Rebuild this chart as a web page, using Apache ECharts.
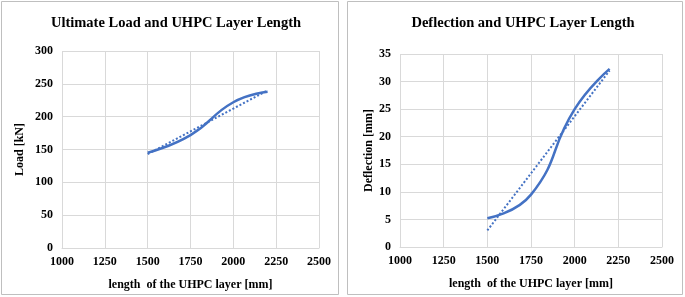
<!DOCTYPE html>
<html>
<head>
<meta charset="utf-8">
<script src="https://cdn.jsdelivr.net/npm/echarts@6/dist/echarts.min.js"></script>
<style>
  html, body { margin: 0; padding: 0; background: #fff; }
  #chart { width: 685px; height: 297px; }
</style>
</head>
<body>
<div id="chart"></div>
<script>
  // lengths of the UHPC layer [mm]
  var lengths = [1500, 1750, 2000, 2200];
  var loadValues = [145, 172, 222, 238];
  var deflectionValues = [5.2, 9.5, 25, 32.3];
  // linear trendline end points
  var trendX = [1500, 2200];
  var loadTrend = [143, 240];
  var deflectionTrend = [3, 32];
  var xTicks = [1000, 1250, 1500, 1750, 2000, 2250, 2500];

  var blue = '#4472C4';
  var font = 'Liberation Serif';

  function pairs(xs, ys) {
    return xs.map(function (x, i) { return [x, ys[i]]; });
  }

  function plain(v) { return String(v); }

  function xAxisFor(idx) {
    return {
      type: 'value',
      gridIndex: idx,
      min: xTicks[0],
      max: xTicks[xTicks.length - 1],
      interval: 250,
      name: 'length  of the UHPC layer [mm]',
      nameLocation: 'middle',
      nameGap: 31,
      nameTextStyle: { fontFamily: font, fontWeight: 'bold', fontSize: 12, color: '#000' },
      axisLine: { show: true, lineStyle: { color: '#d9d9d9', width: 1 } },
      axisTick: { show: false },
      axisLabel: { fontFamily: font, fontWeight: 'bold', fontSize: 12, color: '#000', margin: 8, formatter: plain },
      splitLine: { show: true, lineStyle: { color: '#d9d9d9', width: 1 } }
    };
  }

  function yAxisFor(idx, max, step, name, gap) {
    return {
      type: 'value',
      gridIndex: idx,
      min: 0,
      max: max,
      interval: step,
      name: name,
      nameLocation: 'middle',
      nameGap: gap,
      nameTextStyle: { fontFamily: font, fontWeight: 'bold', fontSize: 12, color: '#000' },
      axisLine: { show: false },
      axisTick: { show: false },
      axisLabel: { fontFamily: font, fontWeight: 'bold', fontSize: 12, color: '#000', margin: 9, formatter: plain },
      splitLine: { show: true, lineStyle: { color: '#d9d9d9', width: 1 } }
    };
  }

  var chart = echarts.init(document.getElementById('chart'));
  var option = {
    animation: false,
    backgroundColor: '#fff',
    title: [
      {
        text: 'Ultimate Load and UHPC Layer Length',
        left: 171, top: 11, textAlign: 'center',
        textStyle: { fontFamily: font, fontWeight: 'bold', fontSize: 14.5, color: '#000' }
      },
      {
        text: 'Deflection and UHPC Layer Length',
        left: 518, top: 11, textAlign: 'center',
        textStyle: { fontFamily: font, fontWeight: 'bold', fontSize: 14.5, color: '#000' }
      }
    ],
    graphic: [
      { type: 'rect', shape: { x: 1.5, y: 1.5, width: 337, height: 293 },
        style: { fill: 'none', stroke: '#bfbfbf', lineWidth: 1 } },
      { type: 'rect', shape: { x: 347.5, y: 1.5, width: 335, height: 293 },
        style: { fill: 'none', stroke: '#bfbfbf', lineWidth: 1 } }
    ],
    grid: [
      { left: 62, right: 366, top: 51, bottom: 49 },
      { left: 400, right: 23, top: 54, bottom: 50 }
    ],
    xAxis: [xAxisFor(0), xAxisFor(1)],
    yAxis: [
      yAxisFor(0, 300, 50, 'Load [kN]', 36),
      yAxisFor(1, 35, 5, 'Deflection [mm]', 25)
    ],
    series: [
      {
        type: 'line', xAxisIndex: 0, yAxisIndex: 0,
        data: pairs(lengths, loadValues),
        smooth: 0.5, showSymbol: false,
        lineStyle: { color: blue, width: 2.5 }
      },
      {
        type: 'line', xAxisIndex: 0, yAxisIndex: 0,
        data: pairs(trendX, loadTrend),
        showSymbol: false,
        lineStyle: { color: blue, width: 2, type: [2, 2] }
      },
      {
        type: 'line', xAxisIndex: 1, yAxisIndex: 1,
        data: pairs(lengths, deflectionValues),
        smooth: 0.5, showSymbol: false,
        lineStyle: { color: blue, width: 2.5 }
      },
      {
        type: 'line', xAxisIndex: 1, yAxisIndex: 1,
        data: pairs(trendX, deflectionTrend),
        showSymbol: false,
        lineStyle: { color: blue, width: 2, type: [2, 2] }
      }
    ]
  };
  chart.setOption(option);
</script>
</body>
</html>
